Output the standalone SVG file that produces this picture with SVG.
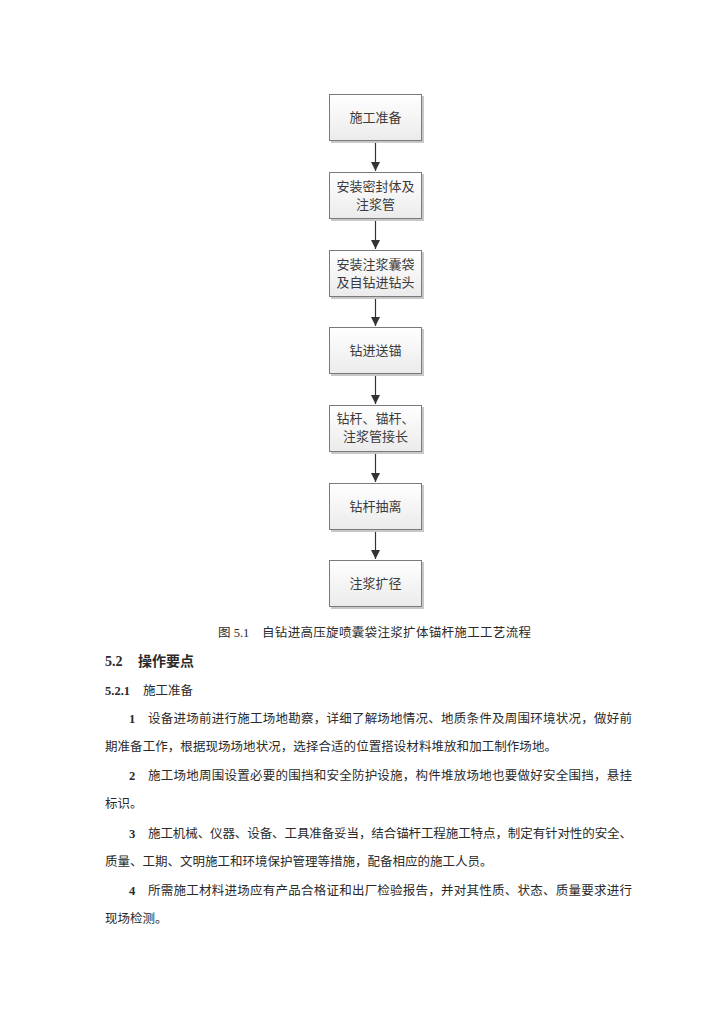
<svg xmlns="http://www.w3.org/2000/svg" width="724" height="1024" viewBox="0 0 724 1024">
<defs>
<linearGradient id="g" x1="0" y1="0" x2="0" y2="1">
<stop offset="0" stop-color="#ffffff"/>
<stop offset="1" stop-color="#ebebeb"/>
</linearGradient>
<marker id="ah" viewBox="0 0 10 10" refX="10" refY="5" markerWidth="9" markerHeight="9" markerUnits="userSpaceOnUse" orient="auto">
<path d="M0,0 L10,5 L0,10 z" fill="#333"/>
</marker>
</defs>
<style>
.sh{fill:#c8c8c8;}
.bx{fill:url(#g);stroke:#7a7a7a;stroke-width:1;}
.bt{font-family:"Noto Sans CJK SC",sans-serif;font-size:13px;fill:#3a3a3a;text-anchor:middle;}
.ln{stroke:#333;stroke-width:1.2;fill:none;}
.tx{font-family:"Liberation Serif","Noto Sans CJK SC",serif;font-size:12.5px;fill:#2a2a2a;}
.b{font-weight:bold;}
</style>
<rect width="724" height="1024" fill="#fff"/>
<g id="connectors">
<line class="ln" x1="375.5" y1="142" x2="375.5" y2="171" marker-end="url(#ah)"/>
<line class="ln" x1="375.5" y1="220" x2="375.5" y2="249" marker-end="url(#ah)"/>
<line class="ln" x1="375.5" y1="298" x2="375.5" y2="326" marker-end="url(#ah)"/>
<line class="ln" x1="375.5" y1="375" x2="375.5" y2="404" marker-end="url(#ah)"/>
<line class="ln" x1="375.5" y1="453" x2="375.5" y2="482" marker-end="url(#ah)"/>
<line class="ln" x1="375.5" y1="530" x2="375.5" y2="559" marker-end="url(#ah)"/>
</g>
<g id="n1"><rect class="sh" x="331" y="96" width="93" height="47"/><rect class="bx" x="329.5" y="94.5" width="92" height="46"/><text class="bt" x="375.5" y="122">施工准备</text></g>
<g id="n2"><rect class="sh" x="331" y="174" width="93" height="47"/><rect class="bx" x="329.5" y="172.5" width="92" height="46"/><text class="bt" x="375.5" y="191">安装密封体及</text><text class="bt" x="375.5" y="209">注浆管</text></g>
<g id="n3"><rect class="sh" x="331" y="252" width="93" height="47"/><rect class="bx" x="329.5" y="250.5" width="92" height="46"/><text class="bt" x="375.5" y="269">安装注浆囊袋</text><text class="bt" x="375.5" y="287">及自钻进钻头</text></g>
<g id="n4"><rect class="sh" x="331" y="329" width="93" height="47"/><rect class="bx" x="329.5" y="327.5" width="92" height="46"/><text class="bt" x="375.5" y="355">钻进送锚</text></g>
<g id="n5"><rect class="sh" x="331" y="407" width="93" height="47"/><rect class="bx" x="329.5" y="405.5" width="92" height="46"/><text class="bt" x="375.5" y="423">钻杆、锚杆、</text><text class="bt" x="375.5" y="441">注浆管接长</text></g>
<g id="n6"><rect class="sh" x="331" y="485" width="93" height="47"/><rect class="bx" x="329.5" y="483.5" width="92" height="46"/><text class="bt" x="375.5" y="511">钻杆抽离</text></g>
<g id="n7"><rect class="sh" x="331" y="562" width="93" height="47"/><rect class="bx" x="329.5" y="560.5" width="92" height="46"/><text class="bt" x="375.5" y="588">注浆扩径</text></g>
<g id="text">
<text class="tx" x="218" y="637">图 5.1</text>
<text class="tx" x="262" y="637" textLength="269" lengthAdjust="spacing">自钻进高压旋喷囊袋注浆扩体锚杆施工工艺流程</text>
<text class="tx" x="105" y="666" style="font-size:14px"><tspan class="b">5.2</tspan><tspan x="138" class="b">操作要点</tspan></text>
<text class="tx" x="105" y="695"><tspan class="b">5.2.1</tspan><tspan x="143">施工准备</tspan></text>
<text class="tx b" x="129" y="723">1</text>
<text class="tx" x="148" y="723" textLength="484" lengthAdjust="spacing">设备进场前进行施工场地勘察，详细了解场地情况、地质条件及周围环境状况，做好前</text>
<text class="tx" x="105" y="751" textLength="452" lengthAdjust="spacing">期准备工作，根据现场场地状况，选择合适的位置搭设材料堆放和加工制作场地。</text>
<text class="tx b" x="129" y="780">2</text>
<text class="tx" x="148" y="780" textLength="484" lengthAdjust="spacing">施工场地周围设置必要的围挡和安全防护设施，构件堆放场地也要做好安全围挡，悬挂</text>
<text class="tx" x="105" y="808">标识。</text>
<text class="tx b" x="129" y="838">3</text>
<text class="tx" x="148" y="838" textLength="484" lengthAdjust="spacing">施工机械、仪器、设备、工具准备妥当，结合锚杆工程施工特点，制定有针对性的安全、</text>
<text class="tx" x="105" y="866">质量、工期、文明施工和环境保护管理等措施，配备相应的施工人员。</text>
<text class="tx b" x="129" y="895">4</text>
<text class="tx" x="148" y="895" textLength="484" lengthAdjust="spacing">所需施工材料进场应有产品合格证和出厂检验报告，并对其性质、状态、质量要求进行</text>
<text class="tx" x="105" y="923">现场检测。</text>
</g>
</svg>
